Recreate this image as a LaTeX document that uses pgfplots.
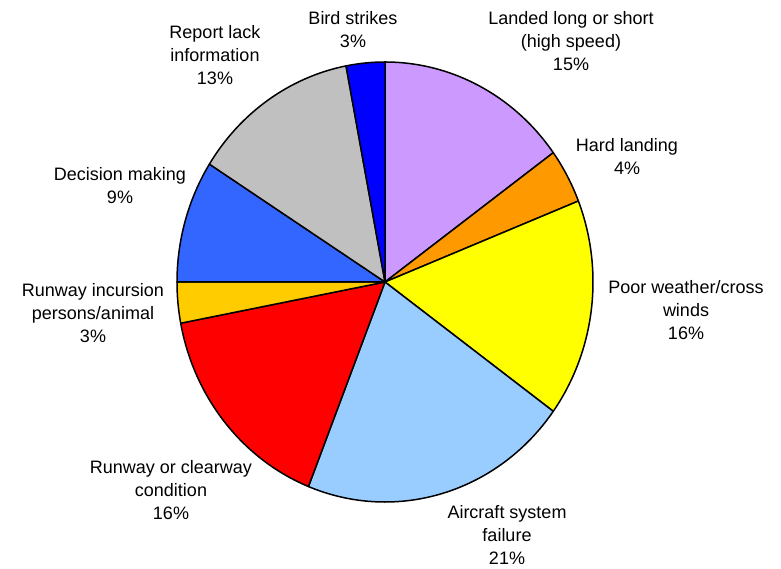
\documentclass[border=0pt]{standalone}
\usepackage{pgfplots}
\pgfplotsset{compat=1.18}
\usepackage{fontspec}
\setmainfont{Liberation Sans}
\definecolor{cLanded}{HTML}{CC99FF}
\definecolor{cHard}{HTML}{FF9900}
\definecolor{cWeather}{HTML}{FFFF00}
\definecolor{cSystem}{HTML}{99CCFF}
\definecolor{cRunway}{HTML}{FF0000}
\definecolor{cIncursion}{HTML}{FFCC00}
\definecolor{cDecision}{HTML}{3366FF}
\definecolor{cReport}{HTML}{C0C0C0}
\definecolor{cBird}{HTML}{0000FF}
\begin{document}
\begin{tikzpicture}
\useasboundingbox (0,0) rectangle (781pt,569pt);
\begin{axis}[
  at={(0,0)}, anchor=south west,
  width=781pt, height=569pt, scale only axis,
  xmin=0, xmax=781, ymin=-569, ymax=0,
  hide axis, clip=false,
]
\gdef\cum{0}
\foreach \v/\c in {15/cLanded,4/cHard,16/cWeather,21/cSystem,16/cRunway,3/cIncursion,9/cDecision,13/cReport,3/cBird}{
  \pgfmathsetmacro{\a}{\cum*3.6}
  \pgfmathsetmacro{\b}{(\cum+\v)*3.6}
  \pgfmathsetmacro{\sx}{385+208*sin(\a)}
  \pgfmathsetmacro{\sy}{-282+220*cos(\a)}
  \pgfmathsetmacro{\sa}{90-\a}
  \pgfmathsetmacro{\ea}{90-\b}
  \edef\temp{\noexpand\filldraw[fill=\c, draw=black, line width=1.5pt, line join=round] (axis cs:385,-282) -- (axis cs:\sx,\sy) arc[start angle=\sa, end angle=\ea, x radius=208pt, y radius=220pt] -- cycle;}
  \temp
  \pgfmathsetmacro{\newcum}{\cum+\v}
  \global\let\cum\newcum
}
\tikzset{lab/.style={align=center, font=\fontsize{18}{23}\selectfont, inner sep=0pt}}
\node[lab] at (axis cs:571,-41) {Landed long or short\\(high speed)\\15\%};
\node[lab] at (axis cs:627,-157) {Hard landing\\4\%};
\node[lab] at (axis cs:686,-310) {Poor weather/cross\\winds\\16\%};
\node[lab] at (axis cs:507,-535) {Aircraft system\\failure\\21\%};
\node[lab] at (axis cs:171,-490) {Runway or clearway\\condition\\16\%};
\node[lab] at (axis cs:93,-313) {Runway incursion\\persons/animal\\3\%};
\node[lab] at (axis cs:120,-186) {Decision making\\9\%};
\node[lab] at (axis cs:215,-55) {Report lack\\information\\13\%};
\node[lab] at (axis cs:353,-30) {Bird strikes\\3\%};
\end{axis}
\end{tikzpicture}
\end{document}
